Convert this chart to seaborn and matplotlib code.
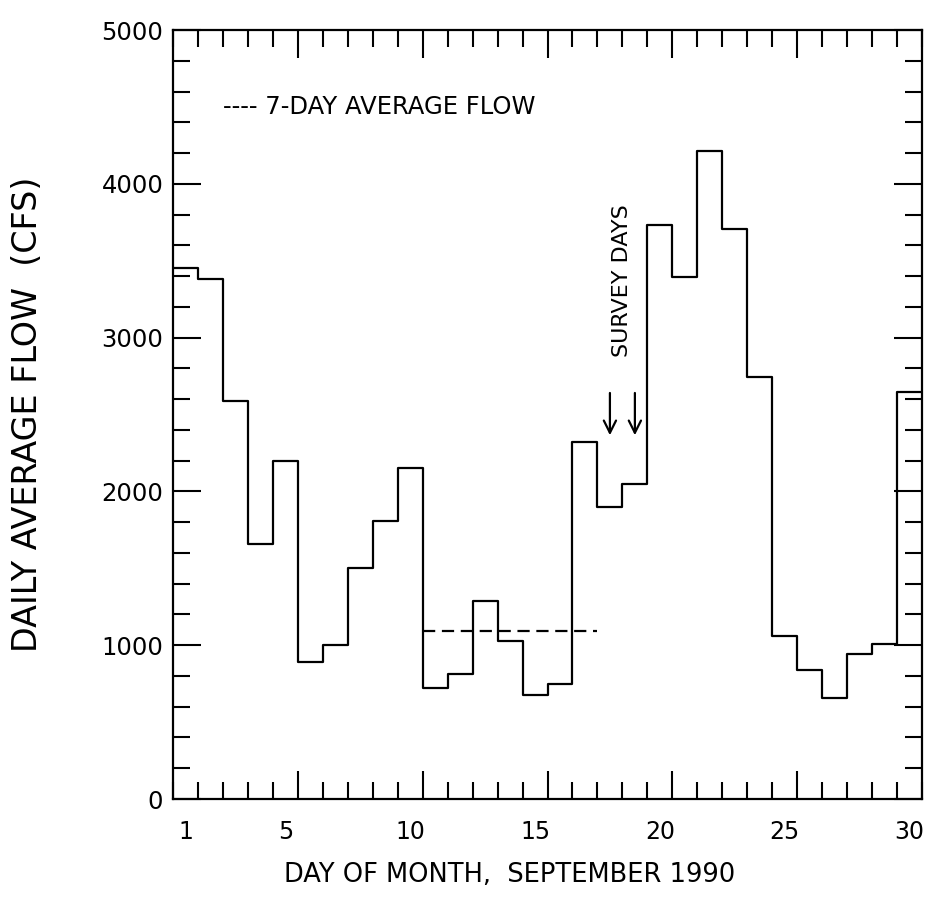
import numpy as np
import pandas as pd
import matplotlib
matplotlib.use('Agg')
import matplotlib.pyplot as plt
import seaborn as sns
from matplotlib.ticker import MultipleLocator, FixedLocator

# ---- data ----
days = list(range(1, 31))
flow_cfs = [3450, 3380, 2590, 1660, 2200, 890, 1000, 1500, 1810, 2150,
            720, 815, 1290, 1030, 675, 745, 2320, 1900, 2050, 3730,
            3395, 4215, 3705, 2745, 1060, 840, 655, 945, 1005, 2645]
avg7_days = [10, 17]
avg7_flow = [1090, 1090]
survey_days = [18, 19]
x_label_days = [1, 5, 10, 15, 20, 25, 30]
y_major = [0, 1000, 2000, 3000, 4000, 5000]

sns.set_style('white')
plt.rcParams['font.family'] = ['DejaVu Sans']
for k in ['text.color', 'axes.labelcolor', 'xtick.color', 'ytick.color']:
    plt.rcParams[k] = 'black'

fig = plt.figure(figsize=(9.35, 9.05), dpi=100)
ax = fig.add_axes([173/935, 1-799/905, 749/935, 769/905])

# step line: day d occupies [d-1, d]
edges = [d - 1 for d in days] + [days[-1]]
step_vals = flow_cfs + [flow_cfs[-1]]
df = pd.DataFrame({'day': edges, 'flow': step_vals})
sns.lineplot(data=df, x='day', y='flow', drawstyle='steps-post', color='black',
             lw=1.6, ax=ax, estimator=None, sort=False)

# 7-day average
sns.lineplot(x=avg7_days, y=avg7_flow, color='black', lw=1.6, ax=ax)
ax.lines[-1].set_dashes([5.5, 3.0])

# survey day arrows
for d in survey_days:
    ax.annotate('', xy=(d - 0.5, 2365), xytext=(d - 0.5, 2640),
                arrowprops=dict(arrowstyle='->', lw=1.6, color='black',
                                mutation_scale=22, shrinkA=0, shrinkB=0))
ax.text(18.0, 3370, 'SURVEY DAYS', rotation=90, ha='center', va='center',
        fontsize=16, color='black')

ax.text(2.0, 4500, '---- 7-DAY AVERAGE FLOW', ha='left', va='center',
        fontsize=17.5, color='black')

ax.set_xlim(0, 30)
ax.set_ylim(0, 5000)

# ticks on main axis (marks only for x)
ax.xaxis.set_major_locator(FixedLocator([5, 10, 15, 20, 25]))
ax.xaxis.set_minor_locator(MultipleLocator(1))
ax.set_xticklabels([])
ax.yaxis.set_major_locator(FixedLocator(y_major))
ax.yaxis.set_minor_locator(MultipleLocator(200))
ax.set_yticklabels([str(v) for v in y_major])
ax.tick_params(axis='both', which='major', direction='in', length=20, width=1.5,
               top=True, right=True, bottom=True, left=True, color='black')
ax.tick_params(axis='both', which='minor', direction='in', length=12.5, width=1.5,
               top=True, right=True, bottom=True, left=True, color='black')
ax.tick_params(axis='y', which='major', labelsize=17.5, pad=7)

# x labels centred on days via secondary axis
sec = ax.secondary_xaxis('bottom')
sec.set_xticks([d - 0.5 for d in x_label_days])
sec.set_xticklabels([str(d) for d in x_label_days])
sec.tick_params(axis='x', length=0, labelsize=17, pad=15)
sec.spines['bottom'].set_visible(False)

for s in ax.spines.values():
    s.set_linewidth(1.6)
    s.set_color('black')
    s.set_visible(True)

ax.set_xlabel('')
ax.set_ylabel('DAILY AVERAGE FLOW  (CFS)', fontsize=24)
ax.yaxis.set_label_coords(-0.172, 0.5)
fig.text(510/935, 1 - 875/905, 'DAY OF MONTH,  SEPTEMBER 1990', ha='center',
         va='center', fontsize=18.5)

fig.savefig('out.png', dpi=100, facecolor='white')
